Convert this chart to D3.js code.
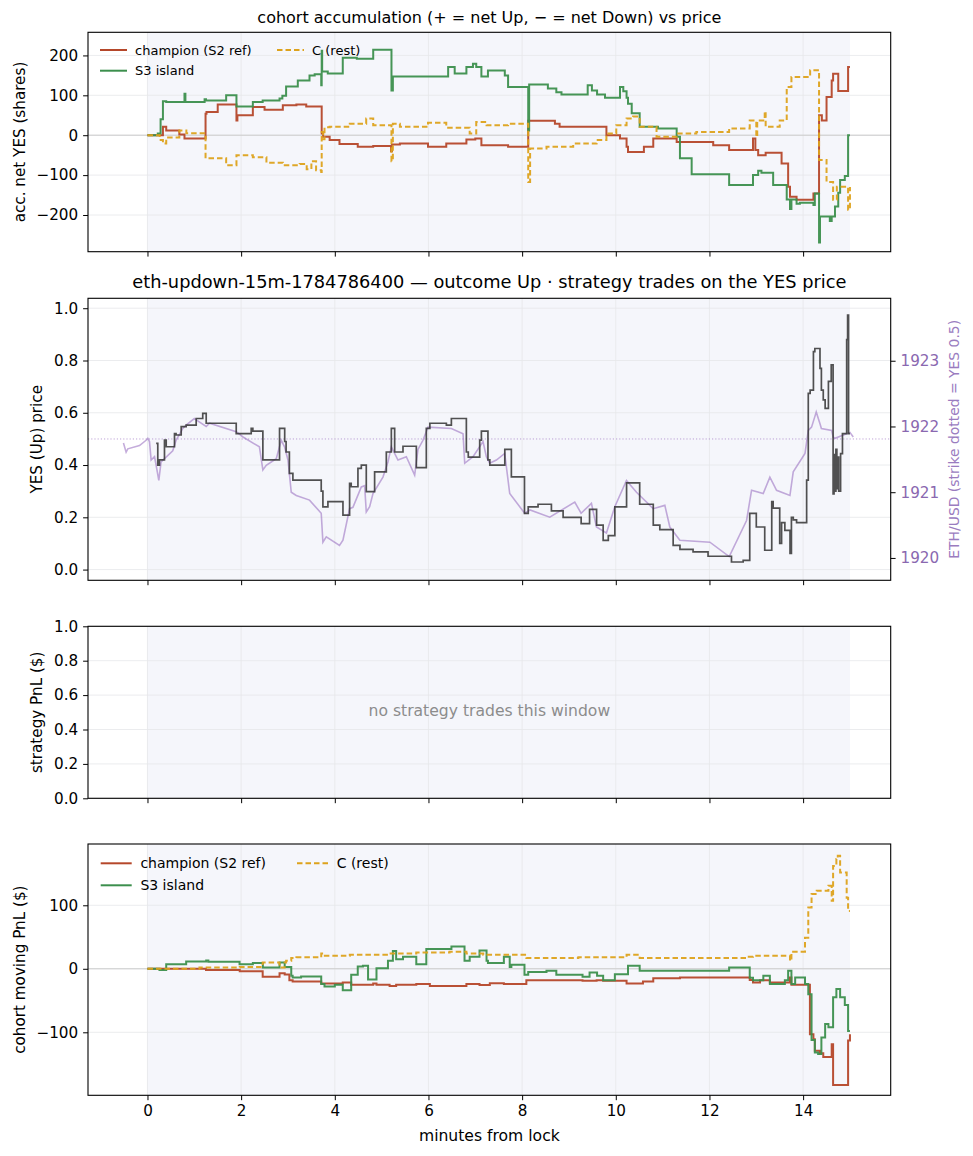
<!DOCTYPE html>
<html>
<head>
<meta charset="utf-8">
<script src="https://cdn.jsdelivr.net/npm/d3@7"></script>
<style>
body { margin: 0; background: #fff; }
svg { display: block; font-family: "DejaVu Sans", sans-serif; }
</style>
</head>
<body>
<svg width="973" height="1156"></svg>
<script>
// ---- data (minutes from lock, value) ----
var xTicks = [0, 2, 4, 6, 8, 10, 12, 14];
var accTicks = [-200, -100, 0, 100, 200];
var priceTicks = [0, 0.2, 0.4, 0.6, 0.8, 1.0];
var usdTicks = [1920, 1921, 1922, 1923];
var pnlTicks = [-100, 0, 100];
var stratTicks = [0, 0.2, 0.4, 0.6, 0.8, 1.0];
var cohorts = ["champion (S2 ref)", "S3 island", "C (rest)"];
var strikeUsd = 1921.81;

var champAcc = [[0,0],[0.3,0],[0.33,21],[0.4,12],[0.68,2],[0.79,-8],[1.24,54],[1.26,58],[1.5,77],[1.9,37],[1.92,50],
  [2.25,71],[2.5,64],[2.89,75],[3.18,77],[3.39,72],[3.72,4],[3.75,-4],[3.89,-12],[4.1,-22],[4.49,-29],[4.82,-27],
  [5.2,-40],[5.22,-23],[5.39,-21],[5.99,-29],[6.38,-21],[6.81,-11],[7.0,-8],[7.13,-25],[7.7,-29],[8.13,36],[8.7,29],
  [8.8,21],[9.8,0],[10.09,-8],[10.23,-29],[10.26,-42],[10.6,-29],[10.8,-8],[11.3,-17],[12.08,-25],[12.42,-37],
  [12.93,-8],[12.98,-37],[13.04,-50],[13.2,-44],[13.54,-71],[13.68,-129],[13.72,-154],[13.86,-162],[14.22,-146],
  [14.34,50],[14.4,37],[14.5,96],[14.61,137],[14.64,154],[14.75,111],[14.96,171],[15.0,171]];
var s3Acc = [[0,0],[0.22,4],[0.28,40],[0.33,85],[0.4,83],[0.79,104],[0.81,83],[1.22,90],[1.25,87],[1.68,100],[1.9,72],
  [2.25,83],[2.46,87],[2.82,92],[2.88,99],[2.96,122],[3.21,137],[3.46,150],[3.57,153],[3.71,125],[3.72,212],[3.73,160],
  [3.85,155],[4.17,194],[4.47,192],[4.82,214],[5.2,214],[5.21,112],[5.24,147],[6.42,171],[6.56,155],[6.81,171],
  [6.95,179],[7.02,171],[7.13,147],[7.27,162],[7.63,150],[7.7,121],[8.12,121],[8.13,12],[8.15,127],[8.55,117],
  [8.73,108],[8.84,102],[9.4,125],[9.49,112],[9.6,102],[9.77,94],[10.09,121],[10.16,110],[10.23,94],[10.26,79],
  [10.34,55],[10.51,21],[10.9,17],[11.3,-4],[11.37,-58],[11.62,-98],[12.42,-125],[12.93,-100],[13.04,-89],[13.11,-94],
  [13.36,-125],[13.65,-161],[13.72,-185],[13.75,-161],[13.86,-172],[13.93,-169],[14.22,-175],[14.25,-146],[14.34,-269],
  [14.36,-204],[14.57,-215],[14.61,-204],[14.68,-179],[14.75,-144],[14.79,-112],[14.89,-102],[14.96,0],[15.0,0]];
var cAcc = [[0,0],[0.26,-12],[0.33,-21],[0.4,-6],[0.68,12],[0.83,5],[1.24,-58],[1.68,-75],[1.9,-50],[2.25,-55],
  [2.54,-69],[2.89,-75],[3.25,-72],[3.4,-85],[3.5,-65],[3.6,-88],[3.71,-92],[3.72,8],[3.75,-10],[3.78,20],[3.89,21],
  [4.32,29],[4.67,42],[4.82,25],[5.2,25],[5.21,-65],[5.24,29],[5.39,21],[5.99,31],[6.38,19],[6.88,4],[7.02,33],
  [7.24,25],[7.7,29],[8.13,-117],[8.17,-33],[8.52,-29],[9.09,-21],[9.59,-12],[9.8,4],[10.01,25],[10.23,42],[10.37,47],
  [10.51,21],[10.87,-4],[11.3,4],[11.72,8],[12.42,17],[12.86,37],[13.0,-4],[13.02,37],[13.18,60],[13.2,21],
  [13.5,37],[13.65,121],[13.75,146],[14.15,163],[14.34,-62],[14.5,-117],[14.64,-162],[14.72,-129],[14.96,-187],
  [15.0,-130]];

var yesPrice = [[0.185,0.483],[0.22,0.40],[0.256,0.42],[0.363,0.495],[0.4,0.47],[0.577,0.52],[0.61,0.515],[0.72,0.547],
  [0.826,0.553],[1.04,0.578],[1.18,0.598],[1.254,0.56],[1.895,0.52],[2.215,0.54],[2.25,0.53],[2.464,0.42],[2.82,0.54],
  [2.93,0.49],[2.96,0.45],[3.03,0.368],[3.105,0.342],[3.71,0.30],[3.746,0.24],[3.853,0.26],[4.174,0.208],[4.316,0.33],
  [4.35,0.317],[4.494,0.387],[4.566,0.40],[4.672,0.298],[4.85,0.374],[5.1,0.45],[5.207,0.54],[5.278,0.45],[5.456,0.472],
  [5.741,0.39],[5.954,0.54],[6.03,0.56],[6.382,0.553],[6.489,0.578],[6.809,0.45],[6.85,0.43],[7.094,0.495],[7.13,0.53],
  [7.27,0.42],[7.31,0.40],[7.63,0.46],[7.77,0.355],[8.05,0.215],[8.13,0.24],[8.34,0.25],[8.625,0.225],[8.875,0.20],
  [9.26,0.176],[9.44,0.23],[9.59,0.17],[9.73,0.112],[9.84,0.13],[9.98,0.24],[10.23,0.332],[10.51,0.25],[10.8,0.17],
  [10.94,0.153],[11.225,0.093],[11.37,0.077],[11.65,0.068],[11.97,0.051],[12.47,0.029],[12.72,0.035],[12.86,0.215],
  [13.0,0.163],[13.18,0.074],[13.33,0.26],[13.36,0.235],[13.5,0.10],[13.54,0.18],[13.61,0.15],[13.72,0.062],[13.75,0.20],
  [13.79,0.19],[13.86,0.18],[14.075,0.342],[14.11,0.674],[14.15,0.687],[14.22,0.834],[14.25,0.846],[14.36,0.77],
  [14.39,0.687],[14.43,0.649],[14.47,0.617],[14.54,0.72],[14.6,0.783],[14.64,0.29],[14.66,0.44],[14.68,0.30],[14.7,0.46],
  [14.72,0.31],[14.74,0.43],[14.76,0.30],[14.8,0.444],[14.84,0.52],[14.93,0.88],[14.95,0.974],[14.97,0.52],[15.0,0.52]];

var ethUsd = [[-0.513,1921.75],[-0.456,1921.61],[-0.42,1921.66],[-0.17,1921.71],[-0.03,1921.79],[0.007,1921.82],
  [0.043,1921.77],[0.078,1921.49],[0.15,1921.54],[0.185,1921.41],[0.242,1921.18],[0.29,1921.46],[0.54,1921.63],
  [0.61,1921.79],[0.755,1921.97],[0.826,1922.02],[1.0,1922.12],[1.04,1922.10],[1.254,1922.0],[1.325,1922.05],
  [1.895,1921.92],[2.04,1921.84],[2.39,1921.69],[2.464,1921.34],[2.536,1921.41],[2.75,1921.51],[2.856,1921.79],
  [2.927,1921.69],[3.0,1921.49],[3.07,1921.0],[3.177,1920.95],[3.46,1920.88],[3.71,1920.68],[3.746,1920.24],
  [3.818,1920.32],[4.10,1920.19],[4.174,1920.27],[4.316,1920.75],[4.387,1920.77],[4.566,1921.08],[4.637,1921.1],
  [4.672,1920.70],[4.744,1920.78],[4.815,1920.98],[5.028,1921.23],[5.135,1921.46],[5.207,1921.69],[5.349,1921.49],
  [5.527,1921.54],[5.705,1921.26],[5.776,1921.65],[5.883,1921.79],[5.99,1921.99],[6.489,1921.97],[6.738,1921.89],
  [6.774,1921.44],[6.952,1921.54],[7.165,1921.77],[7.236,1921.54],[7.308,1921.44],[7.45,1921.49],[7.628,1921.59],
  [7.735,1920.98],[8.054,1920.68],[8.168,1920.73],[8.59,1920.62],[9.124,1920.85],[9.259,1920.68],[9.48,1920.83],
  [9.587,1920.47],[9.8,1920.38],[9.979,1920.78],[10.228,1921.18],[10.442,1921.0],[10.798,1920.75],[11.047,1920.80],
  [11.154,1920.47],[11.368,1920.27],[12.009,1920.24],[12.422,1920.02],[12.792,1920.57],[12.899,1921.03],
  [13.148,1920.98],[13.29,1921.23],[13.433,1921.03],[13.718,1920.95],[13.789,1921.31],[14.04,1921.59],[14.11,1921.94],
  [14.18,1921.99],[14.25,1922.15],[14.28,1922.22],[14.36,1922.04],[14.39,1921.97],[14.61,1921.94],[14.64,1921.84],
  [14.68,1921.82],[14.93,1921.89],[15.0,1921.91],[15.07,1921.84]];

var champPnl = [[0,0],[1.25,-2],[1.97,-4],[2.46,-12.6],[2.82,-7],[2.93,-9],[3.03,-18],[3.1,-20],[3.71,-23],[4.17,-21.5],
  [4.35,-25],[4.82,-23],[4.89,-25],[5.17,-27],[5.31,-25],[5.74,-24],[6.03,-27],[6.81,-24],[7.09,-25.5],[7.31,-22.6],
  [7.61,-24],[8.09,-18],[9.29,-19],[9.59,-18],[9.73,-19],[10.23,-23],[10.58,-20],[10.8,-15],[11.37,-13.6],[12.86,-17.8],
  [12.93,-21.5],[13.08,-18],[13.29,-21.5],[13.72,-13.6],[13.75,-25],[14.145,-103],[14.22,-111],[14.25,-129],
  [14.36,-133],[14.43,-139],[14.61,-119],[14.64,-183],[14.96,-113],[15.0,-103]];
var s3Pnl = [[0,0],[0.256,-2],[0.4,7.3],[0.826,11.5],[1.254,13],[1.3,11],[1.966,7.3],[2.25,9],[2.464,2],[2.82,10],
  [2.93,3],[3.07,-11],[3.1,-13.6],[3.28,-12],[3.71,-24],[3.78,-28],[4.0,-25],[4.17,-33.6],[4.35,-9.4],[4.49,3.7],
  [4.6,4.7],[4.71,-17],[4.89,1],[5.135,12.6],[5.24,28],[5.31,15],[5.456,19],[5.74,7.3],[5.954,31],[6.49,35],[6.77,12.6],
  [6.88,19],[7.09,29],[7.24,12.6],[7.27,9],[7.61,19],[7.735,3],[7.77,6.3],[8.05,-9.4],[8.13,-5],[8.52,-3],[8.73,-9.4],
  [9.29,-12.6],[9.44,-5.8],[9.6,-11],[9.73,-18],[9.98,-8.4],[10.26,4.7],[10.51,-3],[12.42,2],[12.86,-14],[12.93,-18],
  [13.15,-11],[13.29,-24],[13.61,-18],[13.68,-3],[13.75,-24],[13.83,-13.6],[14.04,-24],[14.11,-40],[14.18,-112],
  [14.25,-132],[14.32,-134],[14.39,-108],[14.47,-87],[14.54,-92],[14.64,-45],[14.71,-32],[14.79,-45],[14.89,-57],
  [14.96,-98],[15.0,-98]];
var cPnl = [[0,0],[1.11,2],[1.97,3],[2.46,10],[2.82,2],[2.93,10],[2.96,12.6],[3.07,17],[3.18,18],[3.71,24],[3.75,20.5],
  [4.32,22],[5.17,24],[5.74,25.7],[6.45,27],[6.81,24],[7.17,22],[8.09,17],[9.2,18],[10.23,22],[10.51,17],[12.79,19],
  [12.93,20.5],[13.72,12.6],[13.75,27],[14.04,49],[14.11,96.6],[14.18,117.6],[14.29,123],[14.54,130.7],[14.61,107],
  [14.64,162],[14.71,172.7],[14.74,178],[14.79,151.7],[14.93,112],[14.96,91],[15.0,91]];

var colors = ["#b5472a", "#3c8f4d", "#dda21c"];
var dashes = [null, null, "5.5,3"];
var tickFont = "15.2px";

function main() {
    var svg = d3.select("svg");
    var left = 88, right = 890.7;

    var x = d3.scaleLinear().domain([-1.27, 15.87]).range([left, right]);

    function panel(top, bottom, domain, ticks, fmt, name) {
        var y = d3.scaleLinear().domain(domain).range([bottom, top]);
        var g = svg.append("g");
        g.append("clipPath").attr("id", "clip-" + name)
            .append("rect").attr("x", left).attr("y", top)
            .attr("width", right - left).attr("height", bottom - top);

        // shaded trading window
        g.append("rect").attr("x", x(0)).attr("y", top)
            .attr("width", x(15) - x(0)).attr("height", bottom - top)
            .attr("fill", "#f5f6fb");

        // grid
        g.append("g").selectAll("line").data(xTicks).enter().append("line")
            .attr("x1", function(d) { return x(d); }).attr("x2", function(d) { return x(d); })
            .attr("y1", top).attr("y2", bottom)
            .attr("stroke", "#e6e7ea").attr("stroke-width", 0.8);
        g.append("g").selectAll("line").data(ticks).enter().append("line")
            .attr("x1", left).attr("x2", right)
            .attr("y1", function(d) { return y(d); }).attr("y2", function(d) { return y(d); })
            .attr("stroke", "#e6e7ea").attr("stroke-width", 0.8);

        var ay = g.append("g").attr("transform", "translate(" + left + ",0)")
            .call(d3.axisLeft(y).tickValues(ticks).tickFormat(fmt).tickSize(4.9).tickPadding(4.9));
        var ax = g.append("g").attr("transform", "translate(0," + bottom + ")")
            .call(d3.axisBottom(x).tickValues(xTicks).tickSize(4.9).tickPadding(4.9)
                .tickFormat(name === "pnl" ? d3.format("d") : ""));
        [ay, ax].forEach(function(a) {
            a.select(".domain").remove();
            a.selectAll("text").attr("font-size", tickFont).attr("fill", "#000")
                .attr("font-family", "DejaVu Sans, sans-serif");
            a.selectAll("line").attr("stroke", "#000").attr("stroke-width", 1);
        });

        var lines = g.append("g").attr("clip-path", "url(#clip-" + name + ")");
        return { y: y, g: g, lines: lines, top: top, bottom: bottom };
    }

    function frame(p) {
        p.g.append("rect").attr("x", left).attr("y", p.top)
            .attr("width", right - left).attr("height", p.bottom - p.top)
            .attr("fill", "none").attr("stroke", "#000").attr("stroke-width", 1.1);
    }

    function ylabel(text, cx, p) {
        svg.append("text")
            .attr("transform", "translate(" + cx + "," + ((p.top + p.bottom) / 2) + ") rotate(-90)")
            .attr("text-anchor", "middle").attr("dy", "0.35em")
            .attr("font-size", "15.2px").text(text);
    }

    function cohortLines(p, series) {
        p.lines.append("line").attr("x1", left).attr("x2", right)
            .attr("y1", p.y(0)).attr("y2", p.y(0))
            .attr("stroke", "#cccccc").attr("stroke-width", 1);
        var line = d3.line().curve(d3.curveStepAfter)
            .x(function(d) { return x(d[0]); }).y(function(d) { return p.y(d[1]); });
        series.forEach(function(s, i) {
            p.lines.append("path").datum(s).attr("d", line)
                .attr("fill", "none").attr("stroke", colors[i]).attr("stroke-width", 2)
                .attr("stroke-dasharray", dashes[i]).attr("opacity", 0.95);
        });
    }

    function legend(lx, ly, size, lineLen, colGap, rowGap) {
        var pos = [[0, 0], [0, 1], [1, 0]];
        cohorts.forEach(function(c, i) {
            var gx = lx + pos[i][0] * colGap, gy = ly + pos[i][1] * rowGap;
            svg.append("line").attr("x1", gx).attr("x2", gx + lineLen).attr("y1", gy).attr("y2", gy)
                .attr("stroke", colors[i]).attr("stroke-width", 2).attr("stroke-dasharray", dashes[i]);
            svg.append("text").attr("x", gx + lineLen + size * 0.62).attr("y", gy).attr("dy", "0.35em")
                .attr("font-size", size + "px").text(c);
        });
    }

    // ---- panel 1: cohort accumulation ----
    var p1 = panel(32.3, 251.7, [-292, 258], accTicks, d3.format("d"), "acc");
    cohortLines(p1, [champAcc, s3Acc, cAcc]);
    frame(p1);
    ylabel("acc. net YES (shares)", 19.5, p1);
    svg.append("text").attr("x", (left + right) / 2).attr("y", 22.5).attr("text-anchor", "middle")
        .attr("font-size", "16px").text("cohort accumulation (+ = net Up, \u2212 = net Down) vs price");
    legend(100, 50, 13, 27, 177, 20.7);

    // ---- panel 2: YES price + ETH/USD ----
    var p2 = panel(298.3, 580.3, [-0.041, 1.038], priceTicks, d3.format(".1f"), "price");
    var yr = d3.scaleLinear().domain([1919.66, 1923.95]).range([580.3, 298.3]);
    p2.lines.append("line").attr("x1", left).attr("x2", right)
        .attr("y1", yr(strikeUsd)).attr("y2", yr(strikeUsd))
        .attr("stroke", "#9467bd").attr("stroke-opacity", 0.6).attr("stroke-width", 1)
        .attr("stroke-dasharray", "1.2,2");
    p2.lines.append("path").datum(ethUsd)
        .attr("d", d3.line().x(function(d) { return x(d[0]); }).y(function(d) { return yr(d[1]); }))
        .attr("fill", "none").attr("stroke", "#9467bd").attr("stroke-opacity", 0.55).attr("stroke-width", 1.6);
    p2.lines.append("path").datum(yesPrice)
        .attr("d", d3.line().curve(d3.curveStepAfter)
            .x(function(d) { return x(d[0]); }).y(function(d) { return p2.y(d[1]); }))
        .attr("fill", "none").attr("stroke", "#333").attr("stroke-opacity", 0.85).attr("stroke-width", 1.7);
    var ar = p2.g.append("g").attr("transform", "translate(" + right + ",0)")
        .call(d3.axisRight(yr).tickValues(usdTicks).tickFormat(d3.format("d")).tickSize(4.9).tickPadding(4.9));
    ar.select(".domain").remove();
    ar.selectAll("text").attr("font-size", tickFont).attr("fill", "#8a68b0")
        .attr("font-family", "DejaVu Sans, sans-serif");
    ar.selectAll("line").attr("stroke", "#000");
    frame(p2);
    ylabel("YES (Up) price", 36.5, p2);
    svg.append("text")
        .attr("transform", "translate(954," + ((p2.top + p2.bottom) / 2) + ") rotate(-90)")
        .attr("text-anchor", "middle").attr("dy", "0.35em")
        .attr("font-size", "13.9px").attr("fill", "#9a7cbf").text("ETH/USD (strike dotted = YES 0.5)");
    svg.append("text").attr("x", (left + right) / 2).attr("y", 288).attr("text-anchor", "middle")
        .attr("font-size", "17.8px")
        .text("eth-updown-15m-1784786400 \u2014 outcome Up \u00b7 strategy trades on the YES price");

    // ---- panel 3: strategy PnL (empty) ----
    var p3 = panel(626.3, 798.3, [0, 1], stratTicks, d3.format(".1f"), "strat");
    frame(p3);
    ylabel("strategy PnL ($)", 36.7, p3);
    svg.append("text").attr("x", (left + right) / 2).attr("y", 711).attr("dy", "0.35em")
        .attr("text-anchor", "middle").attr("font-size", "15.6px").attr("fill", "#8c8c8c")
        .text("no strategy trades this window");

    // ---- panel 4: cohort moving PnL ----
    var p4 = panel(844, 1095.3, [-199.2, 196.5], pnlTicks, d3.format("d"), "pnl");
    cohortLines(p4, [champPnl, s3Pnl, cPnl]);
    frame(p4);
    ylabel("cohort moving PnL ($)", 19.3, p4);
    legend(100.7, 863.3, 14, 31, 196.3, 22);
    svg.append("text").attr("x", (left + right) / 2).attr("y", 1140.5).attr("text-anchor", "middle")
        .attr("font-size", "15.6px").text("minutes from lock");
}
main();
</script>
</body>
</html>
